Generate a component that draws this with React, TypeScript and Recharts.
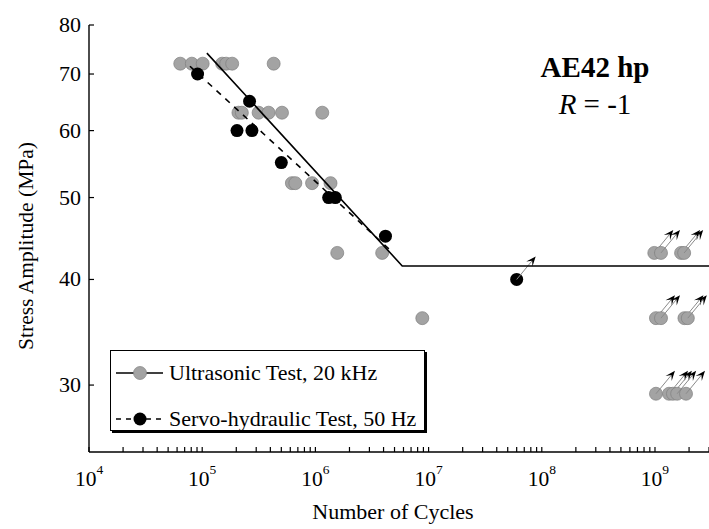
import React from 'react'
import { ScatterChart, Scatter, XAxis, YAxis, Legend } from 'recharts'

const FONT = '"Liberation Serif", "Times New Roman", Times, serif'

// ultrasonic test, 20 kHz (failures)
const usCycles = [6.4e4, 8.1e4, 1.01e5, 1.5e5, 1.63e5, 1.84e5, 4.28e5, 2.09e5, 2.24e5, 3.15e5, 3.86e5, 5.07e5, 1.15e6, 6.2e5, 6.65e5, 9.35e5, 1.36e6, 1.56e6, 3.89e6, 8.8e6]
const usStress = [72, 72, 72, 72, 72, 72, 72, 63, 63, 63, 63, 63, 63, 52, 52, 52, 52, 43, 43, 36]

// ultrasonic run-outs
const usRunoutCycles = [9.86e8, 1.13e9, 1.7e9, 1.81e9, 1.02e9, 1.13e9, 1.82e9, 1.95e9, 1.02e9, 1.33e9, 1.44e9, 1.57e9, 1.88e9]
const usRunoutStress = [43, 43, 43, 43, 36, 36, 36, 36, 29.3, 29.3, 29.3, 29.3, 29.3]

// servo-hydraulic test, 50 Hz
const shCycles = [9.1e4, 2.62e5, 2.03e5, 2.75e5, 5.0e5, 1.31e6, 1.5e6, 4.16e6]
const shStress = [70, 65, 60, 60, 55, 50, 50, 45]
const shRunoutCycles = [6.0e7]
const shRunoutStress = [40]

// fitted S-N curves
const usFitCycles = [1.1e5, 5.85e6, 3e9]
const usFitStress = [74.1, 41.5, 41.5]
const shFitCycles = [7.8e4, 4.6e6]
const shFitStress = [71.5, 43.3]

const xMajor = [1e4, 1e5, 1e6, 1e7, 1e8, 1e9]
const yTicks = [30, 40, 50, 60, 70, 80]

const xTicks: number[] = []
xMajor.forEach((d) => {
  for (let m = 1; m <= 9; m++) if (m * d <= 3e9) xTicks.push(m * d)
})

const zip = (xs: number[], ys: number[]) => xs.map((x, i) => ({ x, y: ys[i] }))

const usData = zip(usCycles, usStress)
const usRunout = zip(usRunoutCycles, usRunoutStress)
const shData = zip(shCycles, shStress)
const shRunout = zip(shRunoutCycles, shRunoutStress)
const usFit = zip(usFitCycles, usFitStress)
const shFit = zip(shFitCycles, shFitStress)

const GRAY = '#a3a3a3'
const GRAY_EDGE = '#808080'

function Arrow({ cx, cy }: { cx: number; cy: number }) {
  const dx = 19
  const dy = -23
  const len = Math.hypot(dx, dy)
  const ux = dx / len
  const uy = dy / len
  const px = -uy
  const py = ux
  const tx = cx + dx
  const ty = cy + dy
  const L = 10
  const W = 4
  const bx = tx - ux * L
  const by = ty - uy * L
  const ix = tx - ux * L * 0.55
  const iy = ty - uy * L * 0.55
  return (
    <g>
      <line x1={cx} y1={cy} x2={ix} y2={iy} stroke="#8a8a8a" strokeWidth={1} />
      <polygon
        points={`${tx},${ty} ${bx + px * W},${by + py * W} ${ix},${iy} ${bx - px * W},${by - py * W}`}
        fill="#000"
      />
    </g>
  )
}

const grayDot = (p: any) => <circle cx={p.cx} cy={p.cy} r={6.5} fill={GRAY} stroke={GRAY_EDGE} strokeWidth={0.7} />
const blackDot = (p: any) => <circle cx={p.cx} cy={p.cy} r={6.5} fill="#000" />
const grayRunout = (p: any) => (
  <g>
    <circle cx={p.cx} cy={p.cy} r={6.5} fill={GRAY} stroke={GRAY_EDGE} strokeWidth={0.7} />
    <Arrow cx={p.cx} cy={p.cy} />
  </g>
)
const blackRunout = (p: any) => (
  <g>
    <circle cx={p.cx} cy={p.cy} r={6.5} fill="#000" />
    <Arrow cx={p.cx} cy={p.cy} />
  </g>
)
const noDot = () => <g />

function BottomTick({ x, y, payload }: any) {
  const v = payload.value
  const exp = Math.round(Math.log10(v))
  const major = xMajor.includes(v)
  return (
    <g>
      <line x1={x} x2={x} y1={y} y2={y - 5} stroke="#000" strokeWidth={1.2} />
      {major && (
        <text x={x} y={y + 34} textAnchor="middle" fontFamily={FONT} fontSize={21.5} fill="#000">
          10
          <tspan fontSize={13.5} dy={-12}>
            {exp}
          </tspan>
        </text>
      )}
    </g>
  )
}

function TopTick({ x, y }: any) {
  return <line x1={x} x2={x} y1={y} y2={y + 5} stroke="#000" strokeWidth={1.2} />
}

function LeftTick({ x, y, payload }: any) {
  return (
    <g>
      <line x1={x} x2={x + 5} y1={y} y2={y} stroke="#000" strokeWidth={1.2} />
      <text x={x - 8} y={y + 7} textAnchor="end" fontFamily={FONT} fontSize={22} fill="#000">
        {payload.value}
      </text>
    </g>
  )
}

function LegendBox() {
  const row = (dashed: boolean, fill: string, label: string) => (
    <div style={{ display: 'flex', alignItems: 'center', height: 47 }}>
      <svg width={48} height={16} style={{ marginLeft: 5, marginRight: 5 }}>
        <line x1={0} x2={47} y1={8} y2={8} stroke="#000" strokeWidth={1.3} strokeDasharray={dashed ? '5 5' : undefined} />
        <circle cx={24} cy={8} r={6.5} fill={fill} stroke={dashed ? undefined : GRAY_EDGE} strokeWidth={0.7} />
      </svg>
      <span style={{ fontFamily: FONT, fontSize: 22, color: '#000', whiteSpace: 'nowrap' }}>{label}</span>
    </div>
  )
  return (
    <div
      style={{
        width: 315,
        height: 81,
        boxSizing: 'border-box',
        border: '1px solid #000',
        boxShadow: '2px 2px 0 #000',
        background: '#fff',
        lineHeight: 1,
      }}
    >
      <div style={{ marginTop: -2 }}>{row(false, GRAY, 'Ultrasonic Test, 20 kHz')}</div>
      <div style={{ marginTop: -1 }}>{row(true, '#000', 'Servo-hydraulic Test, 50 Hz')}</div>
    </div>
  )
}

export default function App() {
  return (
    <div style={{ position: 'absolute', left: 0, top: 0, width: 709, height: 529, background: '#fff' }}>
      <ScatterChart width={709} height={529} margin={{ top: 25, right: 0, bottom: 0, left: 0 }}>
        <XAxis
          xAxisId="main"
          dataKey="x"
          type="number"
          scale="log"
          domain={[1e4, 3e9]}
          allowDataOverflow
          ticks={xTicks}
          interval={0}
          tickSize={0}
          tickMargin={0}
          tickLine={false}
          tick={<BottomTick />}
          axisLine={{ stroke: '#000', strokeWidth: 1.4 }}
          height={77}
          label={{
            value: 'Number of Cycles',
            position: 'insideBottom',
            offset: 10,
            dx: -6,
            style: { fontFamily: FONT, fontSize: 22, fill: '#000' },
          }}
        />
        <XAxis
          xAxisId="top"
          orientation="top"
          dataKey="x"
          type="number"
          scale="log"
          domain={[1e4, 3e9]}
          allowDataOverflow
          ticks={xTicks}
          interval={0}
          tickSize={0}
          tickMargin={0}
          tickLine={false}
          tick={<TopTick />}
          axisLine={{ stroke: '#000', strokeWidth: 1.4 }}
          height={0}
        />
        <YAxis
          yAxisId="main"
          dataKey="y"
          type="number"
          scale="log"
          domain={[25, 80]}
          allowDataOverflow
          ticks={yTicks}
          interval={0}
          tickSize={0}
          tickMargin={0}
          tickLine={false}
          tick={<LeftTick />}
          axisLine={{ stroke: '#000', strokeWidth: 1.4 }}
          width={89}
          label={{
            content: () => (
              <text
                x={33}
                y={246}
                transform="rotate(-90 33 246)"
                textAnchor="middle"
                fontFamily={FONT}
                fontSize={21.5}
                fill="#000"
              >
                Stress Amplitude (MPa)
              </text>
            ),
          }}
        />
        <Legend
          layout="horizontal"
          align="center"
          verticalAlign="middle"
          wrapperStyle={{ left: 110, top: 350, width: 318, height: 84 }}
          content={() => <LegendBox />}
        />
        <Scatter name="Ultrasonic Test, 20 kHz" data={usData} xAxisId="main" yAxisId="main" shape={grayDot} isAnimationActive={false} />
        <Scatter name="Ultrasonic run-outs" data={usRunout} xAxisId="main" yAxisId="main" shape={grayRunout} isAnimationActive={false} />
        <Scatter name="Servo-hydraulic Test, 50 Hz" data={shData} xAxisId="main" yAxisId="main" shape={blackDot} isAnimationActive={false} />
        <Scatter name="Servo-hydraulic run-outs" data={shRunout} xAxisId="main" yAxisId="main" shape={blackRunout} isAnimationActive={false} />
        <Scatter
          name="Ultrasonic fit"
          data={usFit}
          xAxisId="main"
          yAxisId="main"
          line={{ stroke: '#000', strokeWidth: 1.6 }}
          shape={noDot}
          isAnimationActive={false}
        />
        <Scatter
          name="Servo-hydraulic fit"
          data={shFit}
          xAxisId="main"
          yAxisId="main"
          line={{ stroke: '#000', strokeWidth: 1.6, strokeDasharray: '6 6' }}
          shape={noDot}
          isAnimationActive={false}
        />
        <text x={595} y={77} textAnchor="middle" fontFamily={FONT} fontSize={29} fontWeight="bold" fill="#000">
          AE42 hp
        </text>
        <text x={595} y={114} textAnchor="middle" fontFamily={FONT} fontSize={29} fill="#000">
          <tspan fontStyle="italic">R</tspan> = -1
        </text>
      </ScatterChart>
    </div>
  )
}
